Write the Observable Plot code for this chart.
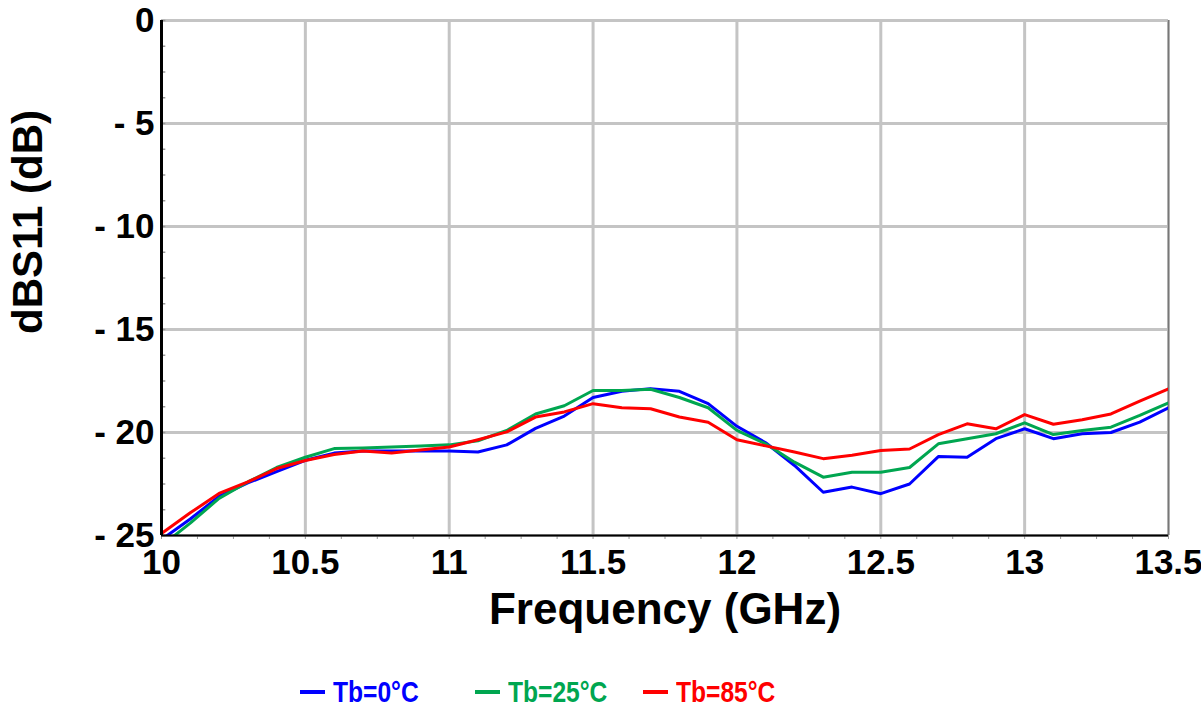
<!DOCTYPE html>
<html>
<head>
<meta charset="utf-8">
<script src="https://cdn.jsdelivr.net/npm/d3@7"></script>
<script src="https://cdn.jsdelivr.net/npm/@observablehq/plot@0.6"></script>
<style>
  html, body { margin: 0; padding: 0; background: #fff; }
  #chart { width: 1201px; height: 650px; }
  #legend { position: relative; width: 1201px; height: 61px; font-family: "Liberation Sans", Arial, sans-serif; font-weight: bold; font-size: 30px; }
  .swatch { position: absolute; top: 40px; width: 25px; height: 4px; }
  .label { position: absolute; top: 42px; line-height: 30px; margin-top: -15px; white-space: nowrap; transform: scaleX(0.82); transform-origin: left center; }
</style>
</head>
<body>
<div id="chart"></div>
<div id="legend"></div>
<script>
const freq = [10.0,10.1,10.2,10.3,10.4,10.5,10.6,10.7,10.8,10.9,11.0,11.1,11.2,11.3,11.4,11.5,11.6,11.7,11.8,11.9,12.0,12.1,12.2,12.3,12.4,12.5,12.6,12.7,12.8,12.9,13.0,13.1,13.2,13.3,13.4,13.5];
const s11_0C = [-25.2,-24.2,-23.1,-22.45,-21.9,-21.35,-21.0,-20.9,-20.9,-20.9,-20.9,-20.95,-20.6,-19.8,-19.2,-18.3,-18.0,-17.87,-18.0,-18.6,-19.7,-20.5,-21.6,-22.9,-22.65,-22.97,-22.5,-21.17,-21.2,-20.3,-19.82,-20.3,-20.06,-20.0,-19.5,-18.8];
const s11_25C = [-25.5,-24.4,-23.2,-22.4,-21.7,-21.2,-20.78,-20.75,-20.7,-20.65,-20.6,-20.4,-19.9,-19.1,-18.7,-17.96,-17.96,-17.9,-18.3,-18.8,-19.9,-20.55,-21.44,-22.17,-21.93,-21.93,-21.7,-20.55,-20.3,-20.06,-19.53,-20.1,-19.9,-19.74,-19.17,-18.56];
const s11_85C = [-24.9,-23.9,-22.96,-22.4,-21.75,-21.36,-21.07,-20.9,-21.0,-20.85,-20.7,-20.35,-19.97,-19.25,-19.0,-18.6,-18.8,-18.85,-19.25,-19.5,-20.35,-20.65,-20.95,-21.27,-21.1,-20.87,-20.8,-20.1,-19.58,-19.82,-19.13,-19.6,-19.38,-19.1,-18.48,-17.88];
const seriesNames = ["Tb=0°C", "Tb=25°C", "Tb=85°C"];
const seriesColors = ["#0000ff", "#00a650", "#ff0000"];
const xTicks = [10, 10.5, 11, 11.5, 12, 12.5, 13, 13.5];
const yTicks = [0, -5, -10, -15, -20, -25];
const xMinor = d3.range(0, 29).map(i => 10 + i * 0.125);
const yMinor = d3.range(0, 21).map(i => -25 + i * 1.25);

const allSeries = [s11_0C, s11_25C, s11_85C];
const table = allSeries.flatMap((vals, si) => vals.map((v, i) => ({f: freq[i], v, s: seriesNames[si]})));

const yFmt = d => d === 0 ? "0" : "- " + Math.abs(d);

const chart = Plot.plot({
  width: 1201,
  height: 650,
  marginLeft: 161,
  marginRight: 33,
  marginTop: 20,
  marginBottom: 115,
  style: {fontFamily: "'Liberation Sans', Arial, sans-serif", fontWeight: "bold", fontSize: "35px", color: "#000", background: "#fff", overflow: "visible"},
  x: {domain: [10, 13.5]},
  y: {domain: [-25, 0]},
  color: {domain: seriesNames, range: seriesColors},
  marks: [
    Plot.gridX(xTicks, {stroke: "#c4c4c4", strokeOpacity: 1, strokeWidth: 3}),
    Plot.gridY(yTicks, {stroke: "#c4c4c4", strokeOpacity: 1, strokeWidth: 3}),
    Plot.axisX({ticks: xMinor, tickSize: 4, text: null, stroke: "#999", label: null}),
    Plot.ruleY(yMinor, {x1: 10, x2: 10.015, stroke: "#999", strokeWidth: 1.5}),
    Plot.ruleX([13.5], {stroke: "#777", strokeWidth: 1.5}),
    Plot.line(table, {x: "f", y: "v", z: "s", stroke: "s", strokeWidth: 3, clip: true}),
    Plot.ruleX([10], {stroke: "#000", strokeWidth: 3}),
    Plot.ruleY([-25], {stroke: "#000", strokeWidth: 2}),
    Plot.axisX({ticks: xTicks, tickSize: 0, tickPadding: 14, tickFormat: d => String(d), fontSize: 35, label: null}),
    Plot.axisY({ticks: yTicks, tickSize: 0, tickPadding: 7, tickFormat: yFmt, fontSize: 35, label: null}),
    Plot.text(["Frequency (GHz)"], {frameAnchor: "bottom", lineAnchor: "middle", textAnchor: "middle", dy: 74, fontSize: 44, fontWeight: "bold", fill: "#000"}),
    Plot.text(["dBS11 (dB)"], {frameAnchor: "left", lineAnchor: "middle", textAnchor: "middle", rotate: -90, dx: -133, dy: -56, fontSize: 42, fontWeight: "bold", fill: "#000"})
  ]
});
document.getElementById("chart").appendChild(chart);

const swatchStarts = [300, 475, 643];
const labelStarts = [333, 508, 676];
const legend = document.getElementById("legend");
seriesNames.forEach((name, i) => {
  const sw = document.createElement("div");
  sw.className = "swatch";
  sw.style.left = swatchStarts[i] + "px";
  sw.style.background = seriesColors[i];
  const t = document.createElement("div");
  t.className = "label";
  t.style.left = labelStarts[i] + "px";
  t.style.color = seriesColors[i];
  t.textContent = name;
  legend.appendChild(sw);
  legend.appendChild(t);
});
</script>
</body>
</html>
